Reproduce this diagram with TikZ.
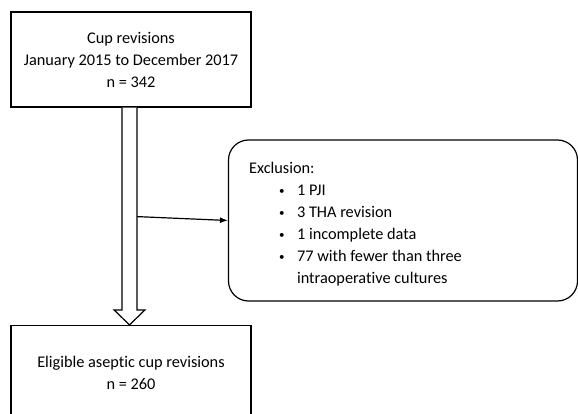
\documentclass[tikz,border=0pt]{standalone}
\usepackage{fontspec}
\setmainfont{Carlito}[Ligatures=NoCommon]
\usetikzlibrary{positioning, arrows.meta, calc}
\tikzset{
  box/.style={draw, line width=1.2pt, inner sep=0pt, minimum width=240pt, 
    minimum height=95pt, align=center, font=\fontsize{16.3}{22}\selectfont},
  roundbox/.style={draw, line width=1.2pt, rounded corners=20pt, inner sep=0pt, 
    minimum width=349pt, minimum height=161pt},
  excltext/.style={inner sep=0pt, anchor=north west, align=left, 
    font=\fontsize{16.3}{22}\selectfont},
  hollow/.style={draw, line width=1.2pt, fill=white, line join=miter}
}
\newcommand{\exclitem}{\hspace*{30pt}\makebox[18pt][l]{\raisebox{1.2pt}{\fontsize{11}{11}\selectfont\textbullet}}}

\begin{document}
\begin{tikzpicture}[x=1pt,y=-1pt]

\useasboundingbox (0,0) rectangle (578,414);

\node [box] (cup) at (131,59.5) {Cup revisions\\January 2015 to December 2017\\n = 342};
\node [box] (eligible) at (131,373) {Eligible aseptic cup revisions\\n = 260};

\node [roundbox] (excl) at (403,220.5) {};
\node [excltext] (excltext) at ($(excl.north west)+(21,22.5)$) {Exclusion:\\
\exclitem 1 PJI\\
\exclitem 3 THA revision\\
\exclitem 1 incomplete data\\
\exclitem 77 with fewer than three\\
\hspace*{48pt}intraoperative cultures};

\draw [hollow] ($(cup.south)+(-9,0)$) -- ($(eligible.north)+(-9,-15)$) 
  -- ($(eligible.north)+(-17,-15)$) -- ($(eligible.north)+(-1.5,0)$) 
  -- ($(eligible.north)+(14,-15)$) -- ($(eligible.north)+(6,-15)$) 
  -- ($(cup.south)+(6,0)$);

\coordinate (branch) at ($(cup.south)+(6,109)$);
\draw [-{Latex[length=8pt,width=6pt]}, line width=1.2pt] (branch) -- (excl.west);

\end{tikzpicture}
\end{document}
